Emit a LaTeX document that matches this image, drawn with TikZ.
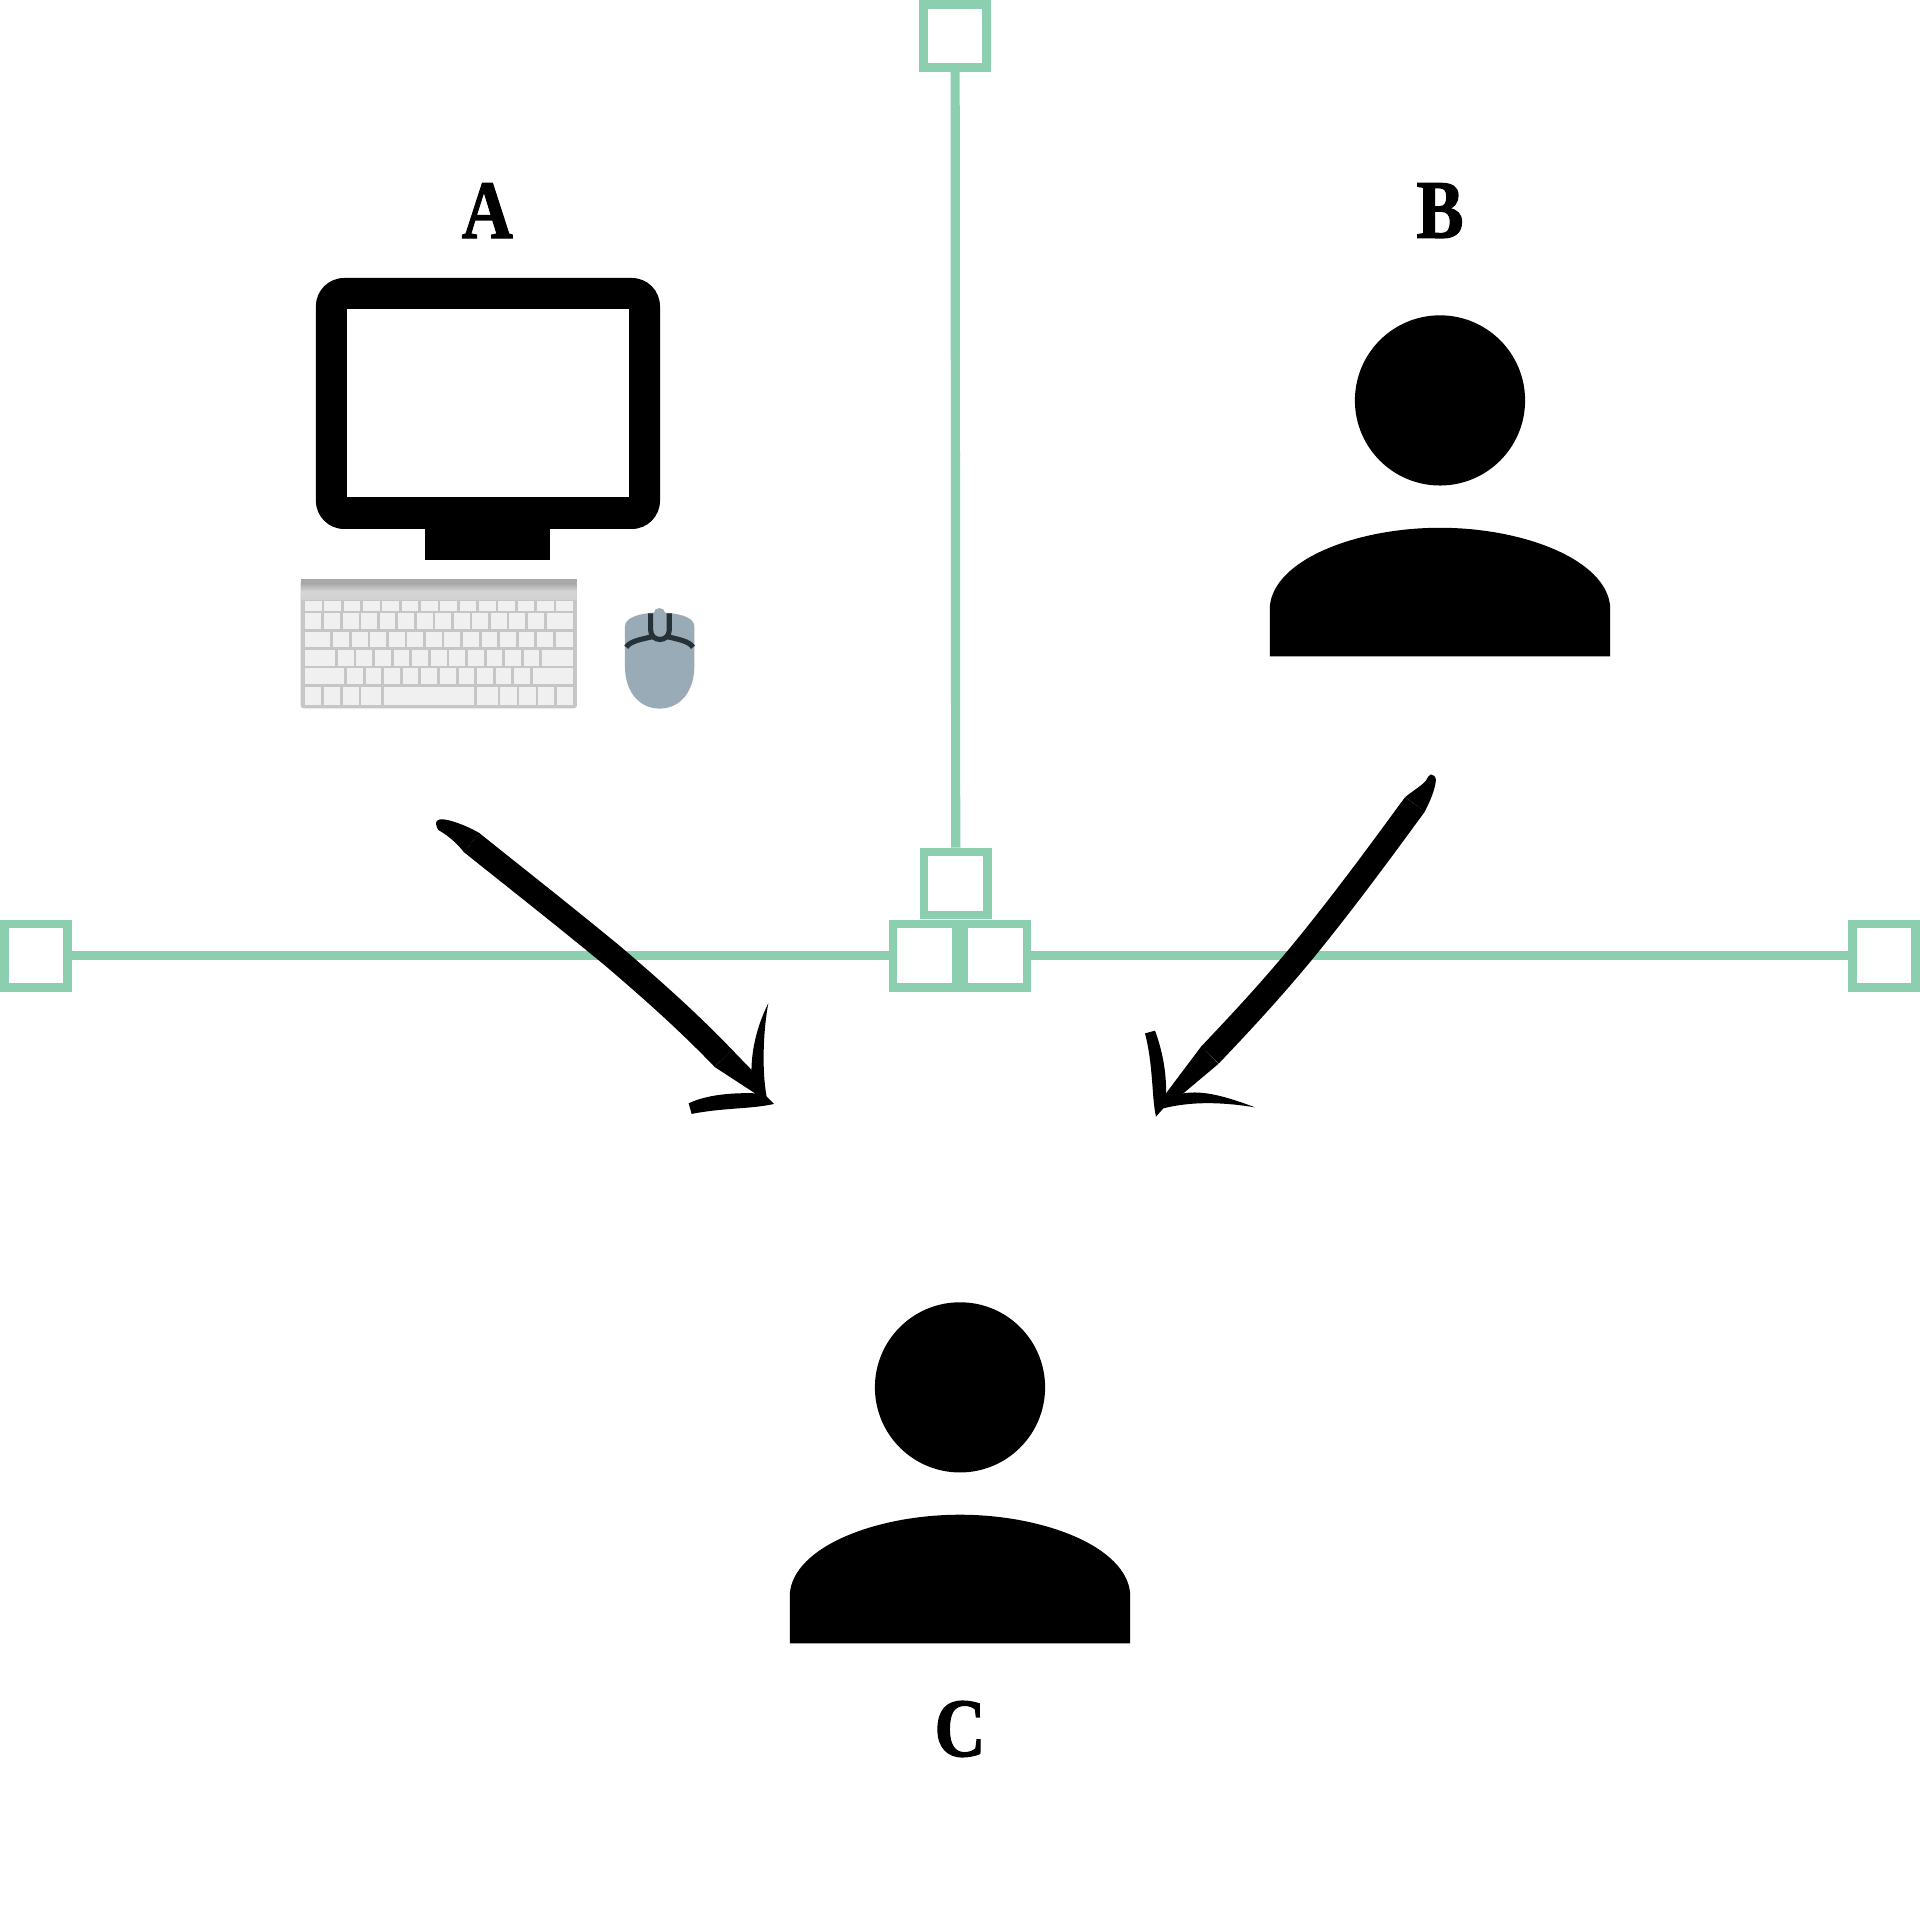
\documentclass[tikz,border=0pt]{standalone}
\usepackage{graphicx}
\usepackage{fontspec}
\newfontfamily\letterfont[BoldFeatures={FakeBold=1.6}]{Liberation Serif}
\definecolor{mint}{HTML}{8CCFB0}
\definecolor{keybody}{HTML}{C6C6C6}
\definecolor{keycap}{HTML}{F0F0F0}
\definecolor{mousebody}{HTML}{9AABB8}
\definecolor{mousedark}{HTML}{263238}
\tikzset{
  x=0.1mm, y=-0.1mm,
  handle/.style={draw=mint, fill=white, line width=0.7mm, minimum size=5.15mm, inner sep=0pt, rectangle},
  wire/.style={draw=mint, line width=0.75mm},
  letter/.style={inner sep=0pt, text=black, font=\letterfont\bfseries\fontsize{19.3}{21}\selectfont},
  cropscale/.style={x=0.02722mm, y=-0.02722mm},
  shaft/.style={draw=black, line width=2mm},
  person/.pic={
    \fill[black] (0,0) circle[radius=6.95mm];
    \fill[black] (-139,209) -- (-139,168.5) .. controls (-136,130) and (-68,104) .. (0,104)
       .. controls (68,104) and (136,130) .. (139,168.5) -- (139,209) -- cycle;
  }
}
\begin{document}
\begin{tikzpicture}
\useasboundingbox (0,0) rectangle (1568,1568);
\fill[white] (0,0) rectangle (1568,1568);

% green guide handles
\node[handle] (top) at (780,29.5) {};
\node[handle] (mid) at (780.5,721.5) {};
\node[handle] (left) at (29.5,780.5) {};
\node[handle] (right) at (1538.5,780.5) {};
\node[handle] (midl) at (755,780.5) {};
\node[handle] (midr) at (813,780.5) {};
\draw[wire] (top) -- (mid);
\draw[wire] (left) -- (midl);
\draw[wire] (midr) -- (right);

% monitor
\fill[black, rounded corners=2.3mm] (258,227) rectangle (539,432);
\fill[black] (347,430) rectangle (449,457);
\fill[white] (283,252) rectangle (514,406);

% keyboard and mouse, in the coordinates of an enlarged crop
\begin{scope}[shift={(228.7,457.3)}, cropscale]
  \fill[keybody, rounded corners=0.25mm] (62,58) rectangle (891,445);
  \fill[keybody!85!black] (62,58) rectangle (891,70);
  \shade[top color=keybody!85!black, bottom color=keybody!80!white, middle color=keybody!75!white] (64,70) rectangle (889,118);
  \foreach \ya/\yb/\keys in {
    122/152/{75/125,133/183,191/241,249/299,307/357,365/415,423/473,481/531,539/589,597/647,655/705,713/763,771/821,829/880},
    160/207/{75/123,133/180,188/236,244/291,299/346,354/402,410/458,465/513,521/569,577/624,632/680,688/735,744/792,800/880},
    216/262/{75/150,160/207,215/263,271/318,326/374,382/430,437/485,492/540,549/596,605/652,660/707,716/763,772/820,828/880},
    271/317/{75/165,173/222,229/277,285/333,341/388,397/444,452/500,508/556,564/611,620/667,675/723,731/778,786/880},
    325/372/{75/193,201/249,257/304,312/360,368/415,424/471,480/527,536/583,591/639,647/694,702/750,758/880},
    380/435/{75/123,133/180,188/236,244/303,312/583,591/653,661/710,717/767,774/823,830/880}}{
    \foreach \a/\b in \keys {
      \fill[keycap] (\a,\ya) rectangle (\b,\yb);
    }
  }
  % mouse
  \fill[mousebody] (1035,200) .. controls (1035,175) and (1070,162) .. (1122,158)
     .. controls (1122,140) and (1155,140) .. (1155,158)
     .. controls (1210,162) and (1243,175) .. (1243,200)
     -- (1243,320) .. controls (1243,395) and (1200,446) .. (1139,446)
     .. controls (1078,446) and (1035,395) .. (1035,320) -- cycle;
  \draw[mousedark, line width=0.42mm] (1112,160) -- (1112,210) .. controls (1112,248) and (1168,248) .. (1168,210) -- (1168,160);
  \draw[mousedark, line width=0.42mm] (1039,262) .. controls (1050,243) and (1085,238) .. (1118,230);
  \draw[mousedark, line width=0.42mm] (1239,262) .. controls (1228,243) and (1193,238) .. (1162,230);
\end{scope}

% people
\pic at (1176,327) {person};
\pic at (784,1133) {person};

% labels
\node[letter] (A) at (398,172) {\scalebox{.85}[1]{A}};
\node[letter] (B) at (1176,172) {\scalebox{.85}[1]{B}};
\node[letter] (C) at (784,1412) {\scalebox{.85}[1]{C}};

% brush arrows
\begin{scope}[shift={(351.2,661.5)}, cropscale]
  \fill[black] (148,69) .. controls (100,42) and (60,30) .. (40,28)
    .. controls (28,26) and (16,32) .. (18,42)
    .. controls (20,52) and (22,56) .. (25,60)
    .. controls (60,80) and (85,105) .. (102,127) -- cycle;
  \draw[shaft] (125,98) .. controls (265,210) and (405,320) .. (547,437) .. controls (650,525) and (770,630) .. (880,745);
  \fill[black] (906,719) -- (965,780) -- (1000,860) -- (975,850) -- (854,771) -- cycle;
  \fill[black] (965,810)
    .. controls (960,720) and (985,640) .. (1015,580)
    .. controls (1000,660) and (995,780) .. (1010,860)
    -- (1032,882)
    .. controls (960,898) and (880,893) .. (785,912)
    -- (776,880)
    .. controls (830,855) and (900,848) .. (975,850)
    -- cycle;
\end{scope}
\begin{scope}[shift={(931,624.8)}, cropscale]
  \fill[black] (854,140) .. controls (870,110) and (885,75) .. (888,45)
    .. controls (888,35) and (880,28) .. (873,28)
    .. controls (866,30) and (862,38) .. (858,47)
    .. controls (845,62) and (815,80) .. (796,96) -- cycle;
  \draw[shaft] (825,118) .. controls (750,220) and (620,400) .. (480,570) .. controls (380,690) and (300,775) .. (210,870);
  \fill[black] (236,896) -- (130,985) -- (60,1020) -- (78,985) -- (184,844) -- cycle;
  \fill[black] (130,985)
    .. controls (190,975) and (260,995) .. (345,1027)
    .. controls (270,1015) and (170,1005) .. (70,1030)
    -- (48,1055)
    .. controls (35,1000) and (40,900) .. (15,805)
    -- (45,797)
    .. controls (65,850) and (80,920) .. (78,985)
    -- cycle;
\end{scope}
\end{tikzpicture}
\end{document}
